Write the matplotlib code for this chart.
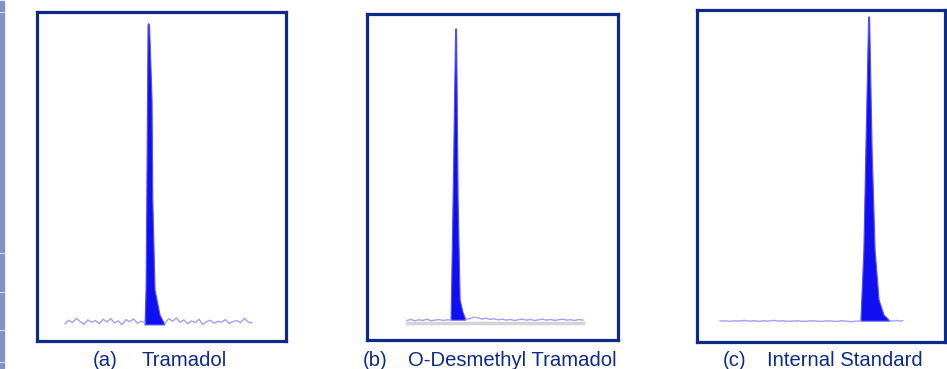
import numpy as np
import matplotlib.pyplot as plt
from matplotlib.patches import Rectangle

plt.rcParams['font.family'] = ['Liberation Sans', 'DejaVu Sans']

# relative units: x 0-100 across each box, y 0-100 (intensity) bottom to top
labels = ["(a)", "(b)", "(c)"]
names = ["Tramadol", "O-Desmethyl Tramadol", "Internal Standard"]

# peak outlines (x, y), left base -> apex -> right tail
peak_a_x = [43.4, 43.8, 44.1, 44.6, 44.8, 45.2, 46.2, 46.5, 47.4, 49.4, 51.4]
peak_a_y = [4.9, 15.5, 42.9, 96.0, 96.5, 96.0, 73.3, 42.9, 15.5, 7.9, 4.9]
peak_b_x = [33.5, 34.3, 35.3, 35.5, 35.7, 36.3, 37.1, 38.2, 39.4]
peak_b_y = [6.1, 42.9, 95.1, 95.5, 95.1, 42.9, 12.3, 8.6, 6.1]
peak_c_x = [66.1, 67.3, 68.1, 69.2, 69.4, 69.6, 70.6, 71.8, 73.4, 75.4, 77.8]
peak_c_y = [6.3, 27.7, 57.8, 97.6, 98.0, 97.6, 57.8, 27.7, 12.7, 8.1, 6.3]

# baseline noise either side of the peak
base_a_left = [5.2, 6.3, 5.6, 6.9, 5.9, 5.1, 6.4, 5.7, 6.2, 5.3, 6.6,
               5.8, 6.8, 5.5, 6.1, 5.0, 6.5, 5.9, 6.7, 5.4, 6.0, 5.6]
base_a_right = [5.5, 6.8, 6.0, 7.0, 5.7, 6.4, 5.2, 6.1, 5.6, 6.6, 5.0, 5.9,
                6.3, 5.4, 6.0, 5.7, 6.5, 5.3, 5.9, 6.2, 5.6, 6.9, 5.8, 5.5]
base_b_left = [6.0, 6.3, 5.9, 6.2, 6.0, 6.4, 5.9, 6.1, 6.3, 6.0, 6.2, 6.1]
base_b_right = [6.3, 6.6, 7.0, 6.8, 6.4, 6.7, 6.3, 6.5, 6.2, 6.4, 6.1, 6.3,
                6.0, 6.2, 6.4, 6.1, 6.3, 6.0, 6.2, 6.4, 6.1, 6.3, 6.0, 6.2,
                6.4, 6.1, 6.2, 6.0, 6.3, 6.1]
base_c_left = [6.3, 6.4, 6.2, 6.4, 6.3, 6.5, 6.3, 6.4, 6.2, 6.4, 6.3, 6.5,
               6.3, 6.4, 6.2, 6.3, 6.4, 6.2, 6.3, 6.4, 6.3, 6.2, 6.4, 6.3,
               6.2, 6.4, 6.3, 6.1, 6.3, 6.3]
base_c_right = [6.4, 6.3, 6.5, 6.3, 6.4]

panels = [
    (peak_a_x, peak_a_y, base_a_left, (11.2, 43.4), base_a_right, (51.4, 86.3)),
    (peak_b_x, peak_b_y, base_b_left, (15.9, 33.5), base_b_right, (39.4, 86.0)),
    (peak_c_x, peak_c_y, base_c_left, (9.3, 66.1), base_c_right, (77.8, 83.0)),
]

# box positions in pixels (left, top, right, bottom) and label x positions
W, H = 947, 369
boxes = [(37, 12, 286, 341), (367, 14, 618, 340), (697, 10, 945, 342)]
label_x = [(93, 142), (363, 408), (723, 767)]

navy = "#0d2a8a"
peak_blue = "#0f0ff2"
base_blue = "#a0a0f8"

fig = plt.figure(figsize=(W / 100, H / 100), dpi=100)

# side strip on the left edge
strip = "#8391c6"
gaps = [0, 12, 253, 292, 330, 362, 369]
for y0, y1 in zip(gaps[:-1], gaps[1:]):
    fig.patches.append(Rectangle((0, 1 - (y1 - 1) / H), 4 / W, (y1 - y0 - 2) / H,
                                 transform=fig.transFigure, color=strip))

for i, (px, py, bl, blr, br, brr) in enumerate(panels):
    l, t, r, b = boxes[i]
    ax = fig.add_axes([l / W, 1 - b / H, (r - l) / W, (b - t) / H])
    ax.set_xlim(0, 100)
    ax.set_ylim(0, 100)
    ax.set_xticks([])
    ax.set_yticks([])
    for s in ax.spines.values():
        s.set_color(navy)
        s.set_linewidth(2.3)

    xl = np.linspace(blr[0], blr[1], len(bl))
    xr = np.linspace(brr[0], brr[1], len(br))
    if i == 1:
        ax.plot([blr[0], brr[1]], [5.3, 5.3], color="#d4d4d8", lw=2.5)
    ax.plot(xl, bl, color=base_blue, lw=1)
    ax.plot(xr, br, color=base_blue, lw=1)
    ax.fill(px, py, color=peak_blue, lw=0.8, ec="#5050f5")

    lx, nx = label_x[i]
    fig.text(lx / W, 1 - 366 / H, labels[i], color=navy, fontsize=14.6, va="baseline")
    fig.text(nx / W, 1 - 366 / H, names[i], color=navy, fontsize=14.6, va="baseline")

fig.savefig("out.png", dpi=100)
